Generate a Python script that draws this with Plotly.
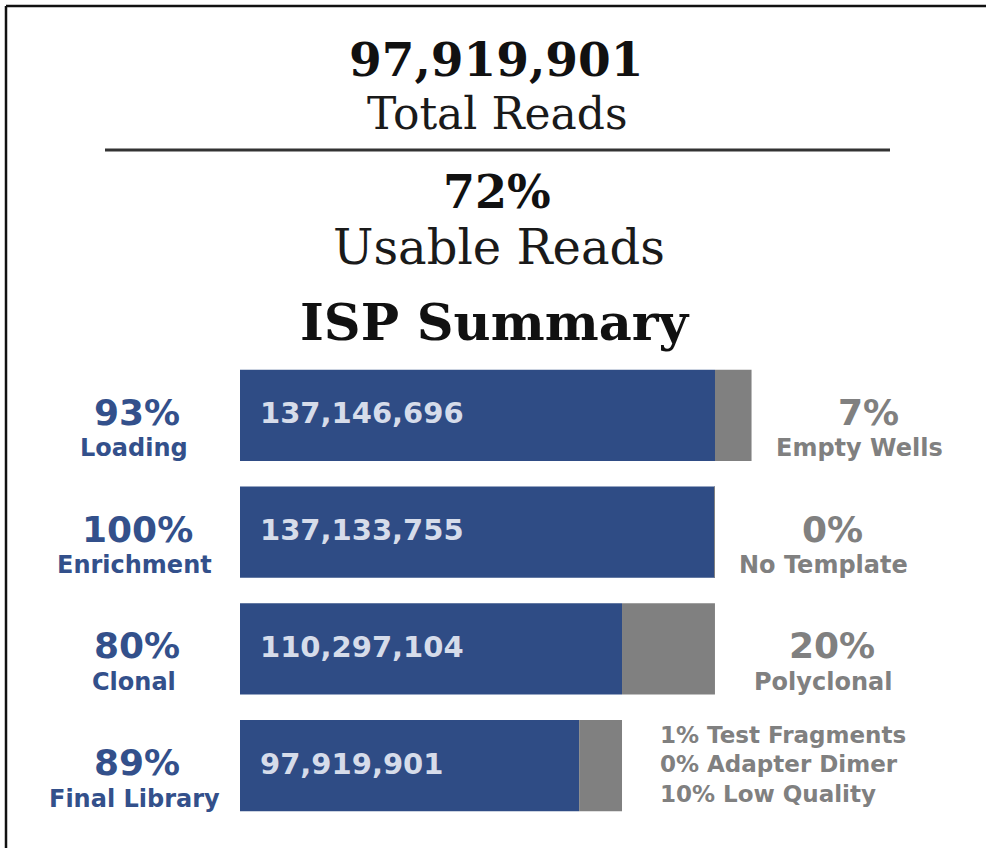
import plotly.graph_objects as go

# ---- data ----
total_reads = "97,919,901"
usable_pct = "72%"
stages = ["Loading", "Enrichment", "Clonal", "Final Library"]
stage_pct = ["93%", "100%", "80%", "89%"]
stage_counts = [137146696, 137133755, 110297104, 97919901]
stage_totals = [147700000, 137146696, 137133755, 110297104]
loss_pct = ["7%", "0%", "20%"]
loss_names = ["Empty Wells", "No Template", "Polyclonal"]
final_breakdown = ["1% Test Fragments", "0% Adapter Dimer", "10% Low Quality"]

BLUE = "#2f4c85"
LBLUE = "#33508b"
GRAY = "#808080"
W, H = 986, 848
ML, MR, MT, MB = 240, 26, 357, 24
PW, PH = W - ML - MR, H - MT - MB
XMAX = PW / (475 / 137146696)

def px(x):
    return (x - ML) / PW

def py(y):
    return (H - MB - y) / PH

ys = list(range(len(stages)))
losses = [t - c for t, c in zip(stage_totals, stage_counts)]

fig = go.Figure()
fig.add_trace(go.Bar(y=ys, x=stage_counts, base=0, orientation="h", width=0.78,
                     marker=dict(color=BLUE, line=dict(width=0)), hoverinfo="skip"))
fig.add_trace(go.Bar(y=ys, x=losses, base=stage_counts, orientation="h", width=0.78,
                     marker=dict(color=GRAY, line=dict(width=0)), hoverinfo="skip"))

ann = []
sans = "DejaVu Sans"
serif = "DejaVu Serif"
# headers
ann.append(dict(x=px(496), y=py(59), xref="paper", yref="paper", text="<b>" + total_reads + "</b>",
                font=dict(family=serif, size=47, color="#111"), showarrow=False,
                xanchor="center", yanchor="middle"))
ann.append(dict(x=px(497), y=py(113), xref="paper", yref="paper", text="Total Reads",
                font=dict(family=serif, size=44, color="#1a1a1a"), showarrow=False,
                xanchor="center", yanchor="middle"))
ann.append(dict(x=px(497), y=py(192), xref="paper", yref="paper", text="<b>" + usable_pct + "</b>",
                font=dict(family=serif, size=46, color="#111"), showarrow=False,
                xanchor="center", yanchor="middle"))
ann.append(dict(x=px(499), y=py(247), xref="paper", yref="paper", text="Usable Reads",
                font=dict(family=serif, size=48, color="#1a1a1a"), showarrow=False,
                xanchor="center", yanchor="middle"))
ann.append(dict(x=px(495), y=py(322), xref="paper", yref="paper", text="<b>ISP Summary</b>",
                font=dict(family=serif, size=51, color="#111"), showarrow=False,
                xanchor="center", yanchor="middle"))

for i, name in enumerate(stages):
    ann.append(dict(x=px(137), y=i, xref="paper", yref="y", text="<b>" + stage_pct[i] + "</b>",
                    font=dict(family=sans, size=36, color=LBLUE), showarrow=False,
                    xanchor="center", yshift=3))
    ann.append(dict(x=px(134), y=i, xref="paper", yref="y", text="<b>" + name + "</b>",
                    font=dict(family=sans, size=24, color=LBLUE), showarrow=False,
                    xanchor="center", yshift=-33))
    ann.append(dict(x=0, y=i, xref="x", yref="y", text="<b>" + f"{stage_counts[i]:,}" + "</b>",
                    font=dict(family=sans, size=29, color="#d6dcea"), showarrow=False,
                    xanchor="left", xshift=18, yshift=2))

for i, (p, n) in enumerate(zip(loss_pct, loss_names)):
    ann.append(dict(x=stage_totals[i], y=i, xref="x", yref="y", text="<b>" + p + "</b>",
                    font=dict(family=sans, size=36, color=GRAY), showarrow=False,
                    xanchor="center", xshift=117, yshift=3))
    ann.append(dict(x=stage_totals[i], y=i, xref="x", yref="y", text="<b>" + n + "</b>",
                    font=dict(family=sans, size=24, color=GRAY), showarrow=False,
                    xanchor="center", xshift=108, yshift=-33))

for k, line in enumerate(final_breakdown):
    ann.append(dict(x=stage_totals[3], y=3, xref="x", yref="y", text="<b>" + line + "</b>",
                    font=dict(family=sans, size=23, color=GRAY), showarrow=False,
                    xanchor="left", xshift=36, yshift=31 - 29.5 * k))

shapes = [
    dict(type="line", xref="paper", yref="paper", x0=px(105), x1=px(890), y0=py(150), y1=py(150),
         line=dict(color="#333", width=3)),
    dict(type="line", xref="paper", yref="paper", x0=px(6), x1=px(6), y0=py(6), y1=py(H + 5),
         line=dict(color="#111", width=2.5)),
    dict(type="line", xref="paper", yref="paper", x0=px(6), x1=px(W + 5), y0=py(6), y1=py(6),
         line=dict(color="#111", width=2.5)),
]

fig.update_layout(
    width=W, height=H, margin=dict(l=ML, r=MR, t=MT, b=MB, pad=0),
    paper_bgcolor="white", plot_bgcolor="white", showlegend=False, barmode="overlay",
    xaxis=dict(range=[0, XMAX], visible=False, fixedrange=True),
    yaxis=dict(range=[3.5, -0.5], visible=False, fixedrange=True),
    annotations=ann, shapes=shapes,
)
fig.write_html("out.html", config={"displayModeBar": False},
               post_script="document.body.style.margin='0';document.body.style.overflow='hidden';")
